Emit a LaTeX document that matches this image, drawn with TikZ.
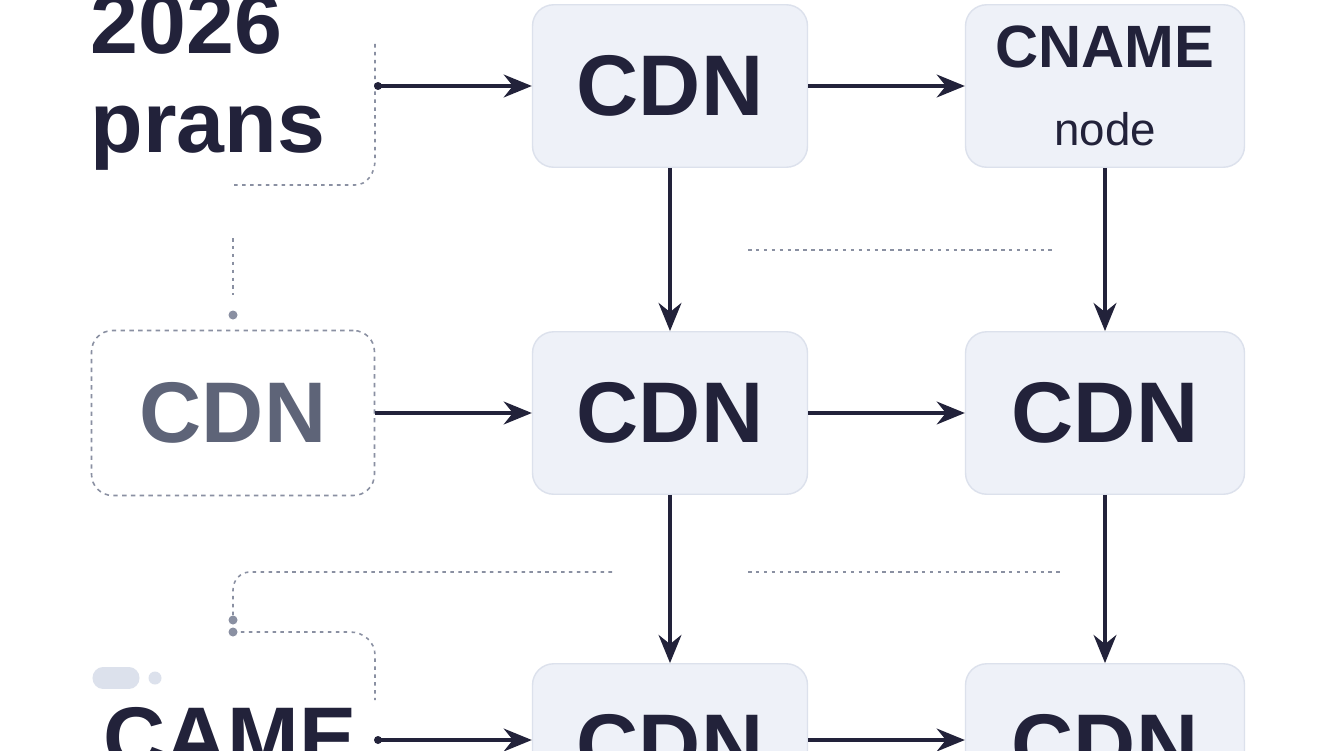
\documentclass[tikz,border=0pt]{standalone}
\usepackage{fontspec}
\setmainfont{Liberation Sans}
\usetikzlibrary{arrows.meta}
\definecolor{ink}{HTML}{22223A}
\definecolor{boxfill}{HTML}{EEF1F8}
\definecolor{boxline}{HTML}{DCE1EC}
\definecolor{soft}{HTML}{5E6478}
\definecolor{dotc}{HTML}{8A90A2}
\tikzset{
  cdnbox/.style={draw=boxline, fill=boxfill, rounded corners=12pt, line width=0.8pt,
    minimum width=5.5cm, minimum height=3.25cm, font=\fontsize{49}{50}\selectfont\bfseries, text=ink},
  flow/.style={-{Stealth[length=16pt,width=13pt]}, line width=2pt, draw=ink},
  guide/.style={dash pattern=on 2pt off 2.5pt, line width=0.9pt, draw=dotc},
}
\begin{document}
\begin{tikzpicture}[x=0.02cm, y=-0.02cm]
\useasboundingbox[fill=white] (0,0) rectangle (1344,750);
% boxes
\node[cdnbox] (c1) at (670,86) {CDN};
\node[cdnbox, minimum width=5.58cm, align=center] (n1) at (1105,86)
  {{\fontsize{34}{34}\selectfont\bfseries CNAME}\\[-6pt]{\fontsize{26}{28}\selectfont\mdseries node}};
\node[cdnbox] (c2) at (670,413) {CDN};
\node[cdnbox, minimum width=5.58cm] (n2) at (1105,413) {CDN};
\node[cdnbox] (c3) at (670,745) {CDN};
\node[cdnbox, minimum width=5.58cm] (n3) at (1105,745) {CDN};
% left column
\node[font=\fontsize{49}{56}\selectfont\bfseries, text=ink, align=left] (plans) at (208,82) {2026\\prans};
\node[draw=dotc, dash pattern=on 2.5pt off 2.5pt, line width=0.9pt, rounded corners=12pt,
  minimum width=5.66cm, minimum height=3.3cm, font=\fontsize{49}{50}\selectfont\bfseries, text=soft] (cl) at (233,413) {CDN};
\node[font=\fontsize{49}{50}\selectfont\bfseries, text=ink] (came) at (230,738) {CAME};
% dotted guides
\coordinate (p1) at (375,44);
\coordinate (p2) at (230,185);
\draw[guide] (p1) -- (375,160) to[out=-90,in=0] (355,185) -- (p2);
\coordinate (q1) at (233,238);
\coordinate (q2) at (233,295);
\draw[guide] (q1) -- (q2);
\fill[dotc] (233,315) circle (4.5);
\coordinate (r1) at (612,572);
\draw[guide] (r1) -- (250,572) to[out=180,in=90] (233,590) -- (233,615);
\fill[dotc] (233,620) circle (4.5);
\fill[dotc] (233,632) circle (4.5);
\draw[guide] (233,632) -- (350,632) to[out=0,in=90] (375,655) -- (375,700);
\coordinate (s1) at (748,250);
\coordinate (s2) at (1053,250);
\draw[guide] (s1) -- (s2);
\coordinate (t1) at (748,572);
\coordinate (t2) at (1060,572);
\draw[guide] (t1) -- (t2);
\draw[boxline, line cap=round, line width=12] (103,678) -- (129,678);
\fill[boxline] (155,678) circle (6.5);
% connectors
\coordinate (a1) at (378,86);
\fill[ink] (a1) circle (4);
\draw[flow] (a1) -- (c1);
\draw[flow] (c1) -- (n1);
\draw[flow] (cl) -- (c2);
\draw[flow] (c2) -- (n2);
\coordinate (a3) at (378,740);
\fill[ink] (a3) circle (4);
\draw[flow] (a3) -- (c3.west |- a3);
\draw[flow] (c3.east |- a3) -- (n3.west |- a3);
\draw[flow] (c1) -- (c2);
\draw[flow] (c2) -- (c3);
\draw[flow] (n1) -- (n2);
\draw[flow] (n2) -- (n3);
\end{tikzpicture}
\end{document}
